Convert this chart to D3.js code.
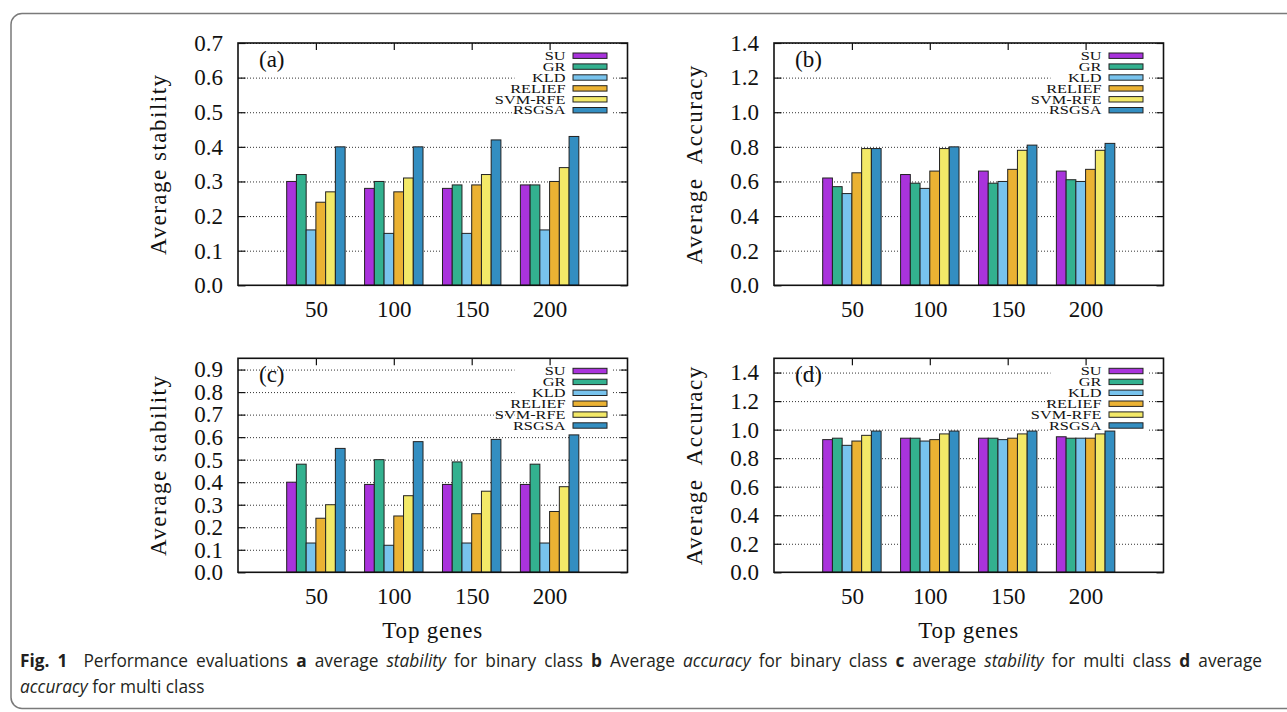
<!DOCTYPE html>
<html>
<head>
<meta charset="utf-8">
<script src="https://cdn.jsdelivr.net/npm/d3@7"></script>
<style>
  body { margin: 0; background: #fff; }
  svg { display: block; }
  .serif { font-family: "Liberation Serif", "Times New Roman", serif; fill: #111; }
  .caption { font-family: "Open Sans", "Noto Sans", sans-serif; fill: #231f20; }
</style>
</head>
<body>
<svg id="fig" width="1287" height="712"></svg>
<script>
const topGenes = ['50', '100', '150', '200'];
const methods = ['SU', 'GR', 'KLD', 'RELIEF', 'SVM-RFE', 'RSGSA'];
const methodColors = ['#a933dc', '#33b18f', '#78c3ed', '#ebb233', '#f3e968', '#338ec1'];

// one row per top-genes group, one column per method
const stabilityBinary = [
  [0.30, 0.32, 0.16, 0.24, 0.27, 0.40],
  [0.28, 0.30, 0.15, 0.27, 0.31, 0.40],
  [0.28, 0.29, 0.15, 0.29, 0.32, 0.42],
  [0.29, 0.29, 0.16, 0.30, 0.34, 0.43]
];
const accuracyBinary = [
  [0.62, 0.57, 0.53, 0.65, 0.79, 0.79],
  [0.64, 0.59, 0.56, 0.66, 0.79, 0.80],
  [0.66, 0.59, 0.60, 0.67, 0.78, 0.81],
  [0.66, 0.61, 0.60, 0.67, 0.78, 0.82]
];
const stabilityMulti = [
  [0.40, 0.48, 0.13, 0.24, 0.30, 0.55],
  [0.39, 0.50, 0.12, 0.25, 0.34, 0.58],
  [0.39, 0.49, 0.13, 0.26, 0.36, 0.59],
  [0.39, 0.48, 0.13, 0.27, 0.38, 0.61]
];
const accuracyMulti = [
  [0.93, 0.94, 0.89, 0.92, 0.96, 0.99],
  [0.94, 0.94, 0.92, 0.93, 0.97, 0.99],
  [0.94, 0.94, 0.93, 0.94, 0.97, 0.99],
  [0.95, 0.94, 0.94, 0.94, 0.97, 0.99]
];

const ticksA = [0, 0.1, 0.2, 0.3, 0.4, 0.5, 0.6, 0.7];
const ticksB = [0, 0.2, 0.4, 0.6, 0.8, 1.0, 1.2, 1.4];
const ticksC = [0, 0.1, 0.2, 0.3, 0.4, 0.5, 0.6, 0.7, 0.8, 0.9];
const ticksD = [0, 0.2, 0.4, 0.6, 0.8, 1.0, 1.2, 1.4];

const panels = [
  {tag: '(a)', values: stabilityBinary, yMax: 0.7, ticks: ticksA, ylabel: 'Average stability', left: 238, top: 43, h: 242.3, xlabel: false},
  {tag: '(b)', values: accuracyBinary, yMax: 1.4, ticks: ticksB, ylabel: 'Average  Accuracy', left: 774, top: 43, h: 242.3, xlabel: false},
  {tag: '(c)', values: stabilityMulti, yMax: 0.95, ticks: ticksC, ylabel: 'Average stability', left: 238, top: 358.3, h: 214, xlabel: true},
  {tag: '(d)', values: accuracyMulti, yMax: 1.5, ticks: ticksD, ylabel: 'Average  Accuracy', left: 774, top: 358.3, h: 214, xlabel: true}
];
const plotW = 389.5;
const barW = 0.125; // in category units

const svg = d3.select('#fig');

// figure frame
svg.append('rect')
  .attr('x', 11).attr('y', 13.5)
  .attr('width', 1300).attr('height', 695)
  .attr('rx', 11)
  .attr('fill', 'none')
  .attr('stroke', '#7a7a7a')
  .attr('stroke-width', 1.5);

function drawPanel(p) {
  const g = svg.append('g').attr('transform', `translate(${p.left},${p.top})`);
  const x = d3.scaleLinear().domain([0, topGenes.length + 1]).range([0, plotW]);
  const y = d3.scaleLinear().domain([0, p.yMax]).range([p.h, 0]);

  // dotted grid
  g.append('g')
    .call(d3.axisLeft(y).tickValues(p.ticks.filter(d => d > 0)).tickSize(-plotW).tickFormat(''))
    .call(s => s.select('.domain').remove())
    .call(s => s.selectAll('line').attr('stroke', '#333').attr('stroke-dasharray', '1,2'));

  // legend background hides grid
  const legTop = 12.7, legStep = 10.9;
  g.append('rect')
    .attr('x', plotW - 113).attr('y', legTop - 7)
    .attr('width', 97).attr('height', legStep * (methods.length - 1) + 13)
    .attr('fill', '#fff');

  // bars
  topGenes.forEach((cat, i) => {
    g.append('g').selectAll('rect')
      .data(p.values[i])
      .join('rect')
      .attr('x', (d, j) => x(i + 1 - 3 * barW + j * barW))
      .attr('y', d => y(d))
      .attr('width', x(barW) - x(0))
      .attr('height', d => p.h - y(d))
      .attr('fill', (d, j) => methodColors[j])
      .attr('stroke', '#222')
      .attr('stroke-width', 1);
  });

  // left axis: inward ticks + labels
  g.append('g')
    .call(d3.axisLeft(y).tickValues(p.ticks).tickFormat(d3.format('.1f')).tickSizeInner(-7.5).tickSizeOuter(0).tickPadding(15))
    .call(s => s.select('.domain').remove())
    .call(s => s.selectAll('line').attr('stroke', '#111').attr('stroke-width', 1.2))
    .call(s => s.selectAll('text').attr('class', 'serif').attr('font-size', 23).attr('font-family', null));

  // right mirror ticks
  g.append('g').attr('transform', `translate(${plotW},0)`)
    .call(d3.axisRight(y).tickValues(p.ticks).tickFormat('').tickSizeInner(-7).tickSizeOuter(0))
    .call(s => s.select('.domain').remove())
    .call(s => s.selectAll('line').attr('stroke', '#111').attr('stroke-width', 1.2));

  // top mirror ticks
  g.append('g')
    .call(d3.axisTop(x).tickValues(d3.range(1, topGenes.length + 1)).tickFormat('').tickSizeInner(-7).tickSizeOuter(0))
    .call(s => s.select('.domain').remove())
    .call(s => s.selectAll('line').attr('stroke', '#111').attr('stroke-width', 1.2));

  // bottom category labels
  g.append('g').attr('transform', `translate(0,${p.h})`)
    .call(d3.axisBottom(x).tickValues(d3.range(1, topGenes.length + 1)).tickFormat(d => topGenes[d - 1]).tickSize(0).tickPadding(15))
    .call(s => s.select('.domain').remove())
    .call(s => s.selectAll('text').attr('class', 'serif').attr('font-size', 23).attr('font-family', null));

  // frame
  g.append('rect')
    .attr('width', plotW).attr('height', p.h)
    .attr('fill', 'none').attr('stroke', '#111').attr('stroke-width', 1.6);

  // panel tag
  g.append('text').attr('class', 'serif')
    .attr('x', 21).attr('y', 23.5)
    .attr('font-size', 23)
    .text(p.tag);

  // legend
  const leg = g.append('g');
  methods.forEach((m, j) => {
    const cy = legTop + j * legStep;
    leg.append('rect')
      .attr('x', plotW - 54.5).attr('y', cy - 2.7)
      .attr('width', 34).attr('height', 5.4)
      .attr('fill', methodColors[j])
      .attr('stroke', '#222').attr('stroke-width', 1);
    leg.append('g')
      .attr('transform', `translate(${plotW - 62},${cy + 4.2}) scale(1.36,1)`)
      .append('text').attr('class', 'serif')
      .attr('text-anchor', 'end')
      .attr('font-size', 12)
      .text(m);
  });

  // y title
  g.append('text').attr('class', 'serif')
    .attr('transform', `translate(-72,${p.h / 2}) rotate(-90)`)
    .attr('text-anchor', 'middle')
    .attr('font-size', 23)
    .attr('letter-spacing', 1.5)
    .attr('xml:space', 'preserve')
    .text(p.ylabel);

  if (p.xlabel) {
    g.append('text').attr('class', 'serif')
      .attr('x', plotW / 2).attr('y', p.h + 66)
      .attr('text-anchor', 'middle')
      .attr('font-size', 23)
      .attr('letter-spacing', 0.8)
      .text('Top genes');
  }
}

panels.forEach(drawPanel);

// caption, first line justified
const capParts1 = [
  ['Fig. 1', 'b'], ['  Performance evaluations ', ''], ['a', 'b'], [' average ', ''], ['stability', 'i'],
  [' for binary class ', ''], ['b', 'b'], [' Average ', ''], ['accuracy', 'i'], [' for binary class ', ''],
  ['c', 'b'], [' average ', ''], ['stability', 'i'], [' for multi class ', ''], ['d', 'b'], [' average', '']
];
const capParts2 = [['accuracy', 'i'], [' for multi class', '']];
const capLeft = 20, capScale = 0.96;

function captionLine(parts, yy, justifyTo) {
  const t = svg.append('g')
    .attr('transform', `translate(${capLeft},${yy}) scale(${capScale},1)`)
    .append('text').attr('class', 'caption')
    .attr('font-size', 18)
    .attr('xml:space', 'preserve');
  parts.forEach(([s, st]) => {
    t.append('tspan')
      .attr('font-weight', st === 'b' ? 700 : null)
      .attr('font-style', st === 'i' ? 'italic' : null)
      .text(s);
  });
  if (justifyTo) {
    const natural = t.node().getComputedTextLength();
    const spaces = parts.map(d => d[0]).join('').split(' ').length - 1;
    t.attr('word-spacing', Math.max(0, ((justifyTo - capLeft) / capScale - natural) / spaces));
  }
}
captionLine(capParts1, 666.5, 1262);
captionLine(capParts2, 693);
</script>
</body>
</html>
